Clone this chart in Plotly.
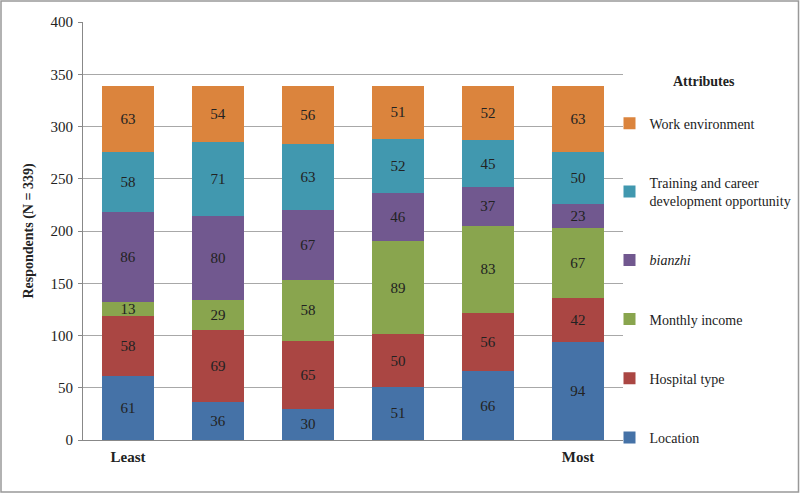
import plotly.graph_objects as go

categories = [1, 2, 3, 4, 5, 6]
tick_labels = ["<b>Least</b>", "", "", "", "", "<b>Most</b>"]

location = [61, 36, 30, 51, 66, 94]
hospital_type = [58, 69, 65, 50, 56, 42]
monthly_income = [13, 29, 58, 89, 83, 67]
bianzhi = [86, 80, 67, 46, 37, 23]
training = [58, 71, 63, 52, 45, 50]
work_env = [63, 54, 56, 51, 52, 63]

series = [
    ("Location", location, "#4572A7"),
    ("Hospital type", hospital_type, "#AA4643"),
    ("Monthly income", monthly_income, "#89A54E"),
    ("<i>bianzhi</i>", bianzhi, "#71588F"),
    ("Training and career<br>development opportunity", training, "#4198AF"),
    ("Work environment", work_env, "#DB843D"),
]

FONT = "Liberation Serif"

fig = go.Figure()
for i, (name, vals, col) in enumerate(series):
    fig.add_trace(go.Bar(
        x=categories, y=vals, name=name, marker=dict(color=col, line=dict(width=0)),
        text=vals, textposition="inside", insidetextanchor="middle",
        textangle=0, textfont=dict(family=FONT, size=15, color="#222222"),
        legendgroup=f"g{i}", legendrank=10 - i,
    ))

fig.update_layout(
    barmode="stack",
    bargap=0.43,
    width=800, height=494,
    margin=dict(l=83, r=177, t=22, b=54, autoexpand=False),
    paper_bgcolor="white", plot_bgcolor="white",
    font=dict(family=FONT, size=14, color="#222222"),
    uniformtext=dict(minsize=15, mode="show"),
    legend=dict(
        x=0.975, y=0.795, xanchor="left", yanchor="top",
        traceorder="grouped", tracegroupgap=38,
        font=dict(family=FONT, size=14, color="#222222"),
        itemwidth=30, bgcolor="rgba(0,0,0,0)",
    ),
    annotations=[dict(
        text="<b>Attributes</b>", xref="paper", yref="paper",
        x=(704 - 83) / 540, y=1 - (82 - 22) / 418, xanchor="center", yanchor="middle",
        showarrow=False, font=dict(family=FONT, size=14, color="#222222"),
    )],
    xaxis=dict(
        tickvals=categories, ticktext=tick_labels, range=[0.5, 6.5],
        showline=True, linecolor="#888888", linewidth=1, ticks="",
        showgrid=False, tickfont=dict(family=FONT, size=15), ticklabelstandoff=3,
    ),
    yaxis=dict(
        range=[0, 400], dtick=50, showline=True, linecolor="#888888", linewidth=1,
        ticks="outside", ticklen=4, tickcolor="#888888", ticklabelstandoff=2,
        showgrid=True, gridcolor="#a8a8a8", gridwidth=1,
        tickfont=dict(family=FONT, size=15),
        title=dict(text="<b>Respondents (N = 339)</b>", font=dict(family=FONT, size=14), standoff=13),
        zeroline=False,
    ),
    shapes=[dict(
        type="rect", xref="paper", yref="paper",
        x0=-82 / 540, x1=1 + 175.5 / 540, y0=-52 / 418, y1=1 + 21 / 418,
        line=dict(color="#999999", width=1.5), fillcolor="rgba(0,0,0,0)", layer="above",
    )],
)

fig.write_html("out.html", config={"displayModeBar": False},
               post_script="document.body.style.margin='0';document.body.style.overflow='hidden';")
